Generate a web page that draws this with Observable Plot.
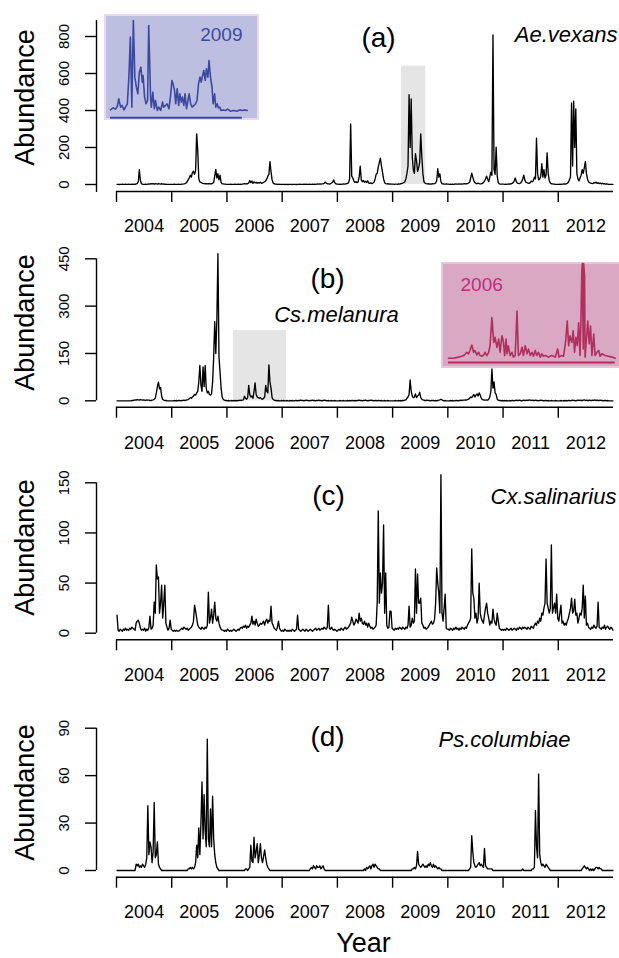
<!DOCTYPE html>
<html>
<head>
<meta charset="utf-8">
<script src="https://cdn.jsdelivr.net/npm/d3@7"></script>
<script src="https://cdn.jsdelivr.net/npm/@observablehq/plot@0.6"></script>
<style>
  html, body { margin: 0; padding: 0; background: #fff; }
  #fig { position: relative; width: 619px; height: 958px; overflow: hidden; }
  #fig svg { position: absolute; overflow: visible; }
</style>
</head>
<body>
<div id="fig"></div>
<script>
// Weekly mosquito trap counts, 2004–2012 (52 values per year, one row per year)
const years = [2004, 2005, 2006, 2007, 2008, 2009, 2010, 2011, 2012];

const aeVexans = [
  [1,1,0,1,1,2,1,1,2,1, 1,2,1,1,2,1,2,1,3,5, 15,80,22,4,2,1,1,2,1,2, 3,2,4,3,5,2,4,3,2,5, 3,2,4,2,3,1,2,1,1,1, 1,1],
  [1,1,2,1,1,1,2,1,1,2, 2,3,5,8,15,25,35,50,40,65, 72,55,75,274,184,30,14,12,8,6, 5,4,5,3,4,3,5,4,6,12, 45,82,35,58,25,50,10,4,3,2, 2,1],
  [1,1,1,2,1,1,1,2,1,1, 2,1,2,1,2,3,4,3,5,4, 8,22,10,18,6,14,9,12,7,10, 8,12,6,9,12,15,20,30,45,55, 124,70,25,8,4,2,2,1,2,1, 1,1],
  [1,1,0,1,1,0,1,1,1,0, 1,1,1,0,1,1,2,1,1,1, 2,1,2,1,1,2,1,1,2,1, 2,1,2,3,2,3,2,3,4,6, 13,8,4,3,2,4,8,12,25,10, 4,2],
  [2,1,2,1,2,3,2,3,4,6, 10,30,328,45,35,20,12,15,10,14, 40,99,25,15,22,12,18,10,20,8, 6,9,5,8,12,30,55,60,95,120, 142,100,65,30,10,5,3,4,2,3, 2,2],
  [2,1,2,2,1,3,2,4,5,8, 10,15,30,60,100,485,200,463,150,80, 60,166,130,70,90,120,274,150,60,15, 8,5,3,4,2,3,2,4,3,5, 8,20,85,40,58,15,4,3,2,2, 3,2],
  [2,1,2,1,2,1,2,3,2,2, 3,2,3,2,3,4,3,4,5,8, 12,35,61,40,20,10,6,4,8,5, 3,4,6,10,18,30,45,28,15,40, 67,50,809,80,55,202,45,10,3,2, 2,2],
  [2,1,2,1,2,3,2,4,6,10, 20,35,15,8,6,5,8,15,30,50, 25,12,10,8,6,10,18,15,20,40, 30,250,60,25,30,45,112,40,80,35, 50,171,60,20,8,4,3,2,2,1, 1,1],
  [1,2,1,2,2,3,2,4,6,12, 25,40,441,100,450,200,409,60,30,20, 35,50,80,60,90,124,60,30,15,10, 8,6,5,10,8,12,6,10,5,8, 4,6,3,5,2,3,2,1,1,1, 1,1]
];

const csMelanura = [
  [0,0,0,0,0,0,0,0,0,0, 0,0,0,0,1,1,2,3,2,4, 3,2,4,3,2,3,2,1,3,2, 2,1,1,2,3,5,8,25,45,59, 38,42,15,4,2,1,1,0,0,0, 0,0],
  [0,0,1,0,1,0,1,1,0,1, 1,2,1,2,3,4,6,10,8,12, 15,20,18,25,30,60,112,50,30,107, 45,112,40,25,30,20,18,22,60,138, 251,150,255,466,140,90,40,12,5,2, 1,1],
  [0,1,0,0,1,0,1,0,1,0, 1,1,2,1,2,3,15,8,5,10, 49,20,12,15,8,30,57,20,12,10, 8,10,6,5,8,12,49,30,25,114, 60,40,10,4,2,1,1,0,1,0, 0,1],
  [0,1,0,0,1,0,0,1,0,1, 0,0,1,1,0,1,1,2,1,1, 0,1,2,1,1,0,1,1,2,1, 1,0,1,1,2,1,1,0,1,2, 1,1,0,1,0,0,1,0,0,1, 0,0],
  [0,0,1,0,0,1,0,0,0,1, 0,1,0,1,1,0,1,0,1,1, 2,1,1,0,1,1,2,1,0,1, 1,2,1,1,0,1,1,0,1,1, 0,1,0,0,1,0,0,1,0,0, 0,0],
  [0,0,1,0,0,1,0,1,0,1, 1,2,3,8,12,20,66,30,15,10, 12,22,10,15,18,27,10,5,3,2, 1,1,2,1,1,0,1,1,1,0, 1,0,1,2,3,5,3,1,0,1, 0,0],
  [0,0,1,0,1,0,0,1,1,0, 1,1,2,1,2,2,3,2,4,5, 8,12,10,15,20,12,18,22,15,25, 18,8,4,3,2,2,3,2,5,12, 30,101,40,60,25,20,5,2,1,1, 0,1],
  [0,1,0,1,0,0,1,0,1,1, 0,1,2,1,1,2,1,0,1,2, 1,1,2,1,3,2,1,2,1,1, 2,1,1,0,1,2,1,1,0,1, 1,0,1,0,0,1,0,0,0,1, 0,0],
  [0,0,1,0,0,1,0,1,0,1, 1,0,1,2,1,1,0,1,2,1, 2,1,1,2,3,1,2,1,1,2, 1,1,2,1,3,1,2,1,1,2, 1,1,0,1,1,0,1,0,0,0, 0,0]
];

const cxSalinarius = [
  [18,3,2,4,3,2,4,3,5,3, 4,3,5,4,6,5,4,3,10,12, 13,10,5,3,4,3,5,2,4,3, 6,17,4,5,8,31,20,68,54,56, 20,30,48,15,30,48,10,6,3,5, 13,4],
  [3,2,3,2,3,2,2,3,4,5, 4,6,5,4,5,3,4,5,6,8, 12,28,22,15,8,6,5,4,6,5, 4,6,5,8,41,10,15,24,10,18, 31,15,12,17,10,6,4,3,3,2, 3,2],
  [4,3,2,3,2,3,4,3,2,3, 4,3,5,6,5,7,6,8,5,7, 6,8,10,17,9,12,8,14,10,7, 8,10,9,10,12,8,12,14,10,13, 12,27,10,8,5,4,3,6,12,5, 3,2],
  [3,2,4,3,2,3,2,3,2,4, 3,2,3,4,18,4,3,2,3,4, 3,2,4,3,2,3,4,3,2,3, 4,5,3,4,5,3,4,5,4,6, 5,4,6,28,5,4,6,4,3,4, 3,2],
  [3,4,3,5,4,3,5,6,4,5, 6,8,10,16,12,8,10,14,12,10, 20,12,15,10,9,12,8,10,6,10, 7,5,6,4,5,6,8,31,122,30, 60,40,50,108,20,60,8,5,6,22, 22,5],
  [4,3,5,4,5,4,6,5,4,6, 5,4,6,5,8,27,6,8,15,10, 12,64,20,59,30,30,35,10,8,5, 6,4,5,6,8,10,12,9,10,14, 30,65,50,40,20,158,20,12,25,39, 5,4],
  [4,3,5,4,3,5,4,6,4,5, 3,5,4,6,5,4,6,5,8,10, 12,15,84,40,35,15,20,10,15,50, 20,15,12,10,18,25,30,20,15,8, 12,10,24,14,10,8,20,12,5,4, 3,4],
  [3,4,3,5,4,3,4,5,3,4, 5,4,3,5,4,6,5,4,6,5, 6,5,4,6,5,4,7,6,5,8, 10,8,12,10,15,12,20,18,25,30, 74,30,25,20,25,88,20,25,30,20, 39,15],
  [12,20,28,10,12,8,10,8,12,15, 20,25,35,20,22,34,18,20,10,15, 20,18,25,48,15,37,8,10,6,5, 4,6,5,8,6,5,7,31,6,5, 4,6,5,8,4,6,7,5,4,6, 5,3]
];

const psColumbiae = [
  [0,0,0,0,0,0,0,0,0,0, 0,0,0,0,0,0,0,0,4,3, 4,2,3,2,4,3,2,4,8,41, 10,18,15,5,12,43,8,10,18,4, 2,1,0,0,0,0,0,0,0,0, 0,0],
  [0,0,0,0,0,0,0,0,0,0, 0,0,0,0,0,1,1,2,1,2, 1,2,5,16,8,27,10,30,56,20, 48,25,15,83,20,15,39,15,47,20, 10,5,2,1,0,0,0,0,0,0, 0,0],
  [0,0,0,0,0,0,0,0,0,0, 0,0,0,0,0,0,0,1,1,0, 1,2,16,6,5,21,8,12,17,5, 10,17,8,5,9,13,8,4,2,1, 0,0,0,0,0,0,0,0,0,0, 0,0],
  [0,0,0,0,0,0,0,0,0,0, 0,0,0,0,0,0,0,0,0,0, 0,0,0,0,0,0,1,2,1,3, 2,1,3,2,2,3,1,2,3,1, 0,0,0,0,0,0,0,0,0,0, 0,0],
  [0,0,0,0,0,0,0,0,0,0, 0,0,0,0,0,0,0,0,0,0, 0,0,0,0,0,1,0,2,1,2, 3,1,3,4,2,4,3,2,1,1, 0,0,0,0,0,0,0,0,0,0, 0,0],
  [0,0,0,0,0,0,0,0,0,0, 0,0,0,0,0,0,0,0,1,1, 2,1,3,12,4,3,2,3,4,3, 2,3,2,4,3,5,3,2,4,2, 3,2,1,2,1,1,0,0,0,0, 0,0],
  [0,0,0,0,0,0,0,0,0,0, 0,0,0,0,0,0,0,0,0,0, 1,2,22,12,5,3,2,3,4,5, 3,4,3,2,14,3,2,1,1,1, 1,1,0,0,0,0,0,0,0,0, 0,0],
  [0,0,0,0,0,0,0,0,0,0, 0,0,0,0,0,0,0,0,1,0, 0,0,0,0,0,0,0,1,1,2, 38,15,8,61,10,5,3,4,3,2, 4,3,2,1,0,0,0,0,0,0, 0,0],
  [0,0,0,0,0,0,0,0,0,0, 0,0,0,0,0,0,0,0,0,0, 0,0,1,2,3,2,1,2,1,0, 1,0,1,0,1,2,2,1,2,1, 1,0,0,0,0,0,0,0,0,0, 0,0]
];

// Close-up seasons shown in the insets (day of year, count)
const insetDays2009 = [0,7,13,18,22,27,31,36,40,45, 49,53,57,61,65,69,73,77,81,85, 87,91,95,99,102,107,109,113,117,120, 125,129,134,139,142,147,151,156,160,164, 167,171,174,178,182,185,189,192,196,199, 203,206,210,214,218,223,227,231,235,239, 242,246,249,253,256,260,263,267,271,274, 278,281,285,288,292,295,301,307,313,320, 329,338,345,352,358,365];
const insetCounts2009 = [7,18,11,25,67,22,31,7,22,40, 184,400,22,490,184,130,94,211,238,157, 193,76,40,58,463,76,22,103,13,58, 4,22,4,49,22,31,40,13,76,166, 148,112,40,121,31,94,49,76,31,94, 13,49,94,40,22,31,40,58,148,184, 157,193,220,166,229,184,274,184,130,40, 94,22,40,18,22,4,7,4,11,0, 4,0,7,4,7,4];

const insetDays2006 = [0,11,22,29,35,40,44,47,51,55, 58,62,66,69,73,77,80,84,88,91, 95,99,102,106,110,113,117,120,123,126, 128,131,135,139,142,146,150,153,157,161, 164,168,172,175,179,183,186,190,193,197, 201,204,208,212,219,226,234,239,242,247, 252,257,260,263,266,270,273,276,279,282, 285,288,290,292,293,295,296,298,299,302, 305,308,311,314,318,321,325,329,332,336, 343,350,358,365];
const insetCounts2006 = [0,0,5,9,15,27,20,35,60,27, 35,15,27,12,9,15,27,12,27,57, 185,72,95,50,87,27,102,80,12,87, 20,57,12,27,5,12,215,12,20,50, 12,57,20,42,12,27,9,35,12,27, 5,20,9,12,5,12,5,42,5,12, 9,87,170,57,102,72,125,27,95,57, 162,12,177,402,432,42,432,372,5,87, 170,65,147,12,110,12,27,35,9,20, 12,9,5,0];

// Shaded seasons highlighted in the main panels
const shadeVexans = [{from: 2009.16, to: 2009.6, top: 640}];
const shadeMelanura = [{from: 2006.12, to: 2007.08, top: 223}];

const tickYears = years;
const FONT = '"Liberation Sans", Arial, Helvetica, sans-serif';
const fig = document.getElementById("fig");

function weekly(series) {
  return series.flatMap((vals, k) => vals.map((v, w) => ({t: years[k] + (w + 0.5) / 52, n: v})));
}

function panel(cfg) {
  const frameBottom = cfg.height - cfg.marginBottom;
  const marks = [];
  if (cfg.shade) {
    marks.push(Plot.rect(cfg.shade, {x1: "from", x2: "to", y1: 0, y2: "top", fill: "#e5e5e5"}));
  }
  marks.push(
    Plot.line(weekly(cfg.series), {x: "t", y: "n", stroke: "#000", strokeWidth: 1.35}),
    // axes drawn R-style: detached lines with outward ticks
    Plot.ruleY([0], {x1: 2004, x2: 2013, dy: frameBottom - cfg.zero, strokeWidth: 1.4}),
    Plot.axisX({ticks: tickYears, anchor: "bottom", label: null, tickSize: 11, tickFormat: () => "", strokeWidth: 1.4}),
    Plot.text(years, {x: d => d + 0.5, text: d => String(d), frameAnchor: "bottom", dy: cfg.labelDy, lineAnchor: "bottom", fontSize: 18}),
    Plot.ruleX([2004], {x: d => d, y1: cfg.axisSpan[0], y2: cfg.axisSpan[1], dx: -20, strokeWidth: 1.4}),
    Plot.axisY({ticks: cfg.yTicks, anchor: "left", label: null, tickSize: 11, tickFormat: () => "", dx: -20, strokeWidth: 1.4}),
    Plot.text(cfg.yTicks, {y: d => d, text: d => String(d), frameAnchor: "left", rotate: -90, dx: -52.3, textAnchor: "middle", lineAnchor: "middle", fontSize: 15}),
    Plot.text(["Abundance"], {text: d => d, frameAnchor: "left", rotate: -90, dx: -91, dy: cfg.abDy, textAnchor: "middle", lineAnchor: "middle", fontSize: 27}),
    Plot.text([cfg.tag], {text: d => d, frameAnchor: "top-left", dx: cfg.tagX - 116, dy: cfg.tagBase, textAnchor: "middle", lineAnchor: "bottom", fontSize: 28}),
    Plot.text([cfg.species], {text: d => d, frameAnchor: "top-left", dx: cfg.speciesX - 116, dy: cfg.speciesBase, textAnchor: cfg.speciesAnchor, lineAnchor: "bottom", fontSize: 22, fontStyle: "italic"})
  );
  if (cfg.xTitle) {
    marks.push(Plot.text([cfg.xTitle], {text: d => d, frameAnchor: "bottom", dx: -1.5, dy: cfg.xTitleDy, lineAnchor: "bottom", fontSize: 27}));
  }
  const svg = Plot.plot({
    width: 619,
    height: cfg.height,
    marginLeft: 116,
    marginRight: 6,
    marginTop: 0,
    marginBottom: cfg.marginBottom,
    style: {fontFamily: FONT, background: "transparent", color: "#000", overflow: "visible"},
    x: {type: "linear", domain: [2004, 2013], label: null},
    y: {type: "linear", domain: [0, cfg.yTicks[cfg.yTicks.length - 1]], range: [cfg.zero, cfg.top], label: null},
    marks
  });
  svg.style.left = "0px";
  svg.style.top = cfg.top0 + "px";
  fig.appendChild(svg);
}

function inset(cfg) {
  const rows = cfg.days.map((d, i) => ({d, n: cfg.counts[i]}));
  const svg = Plot.plot({
    width: cfg.width,
    height: cfg.height,
    marginLeft: cfg.marginLeft,
    marginRight: cfg.marginRight,
    marginTop: 0,
    marginBottom: 0,
    style: {fontFamily: FONT, background: cfg.fill, overflow: "visible"},
    x: {type: "linear", domain: [0, 365], axis: null},
    y: {type: "linear", domain: [0, cfg.yMax], range: cfg.yRange, axis: null},
    marks: [
      Plot.ruleY([0], {x1: 0, x2: cfg.ruleEnd, dy: cfg.ruleDy, stroke: cfg.stroke, strokeWidth: 2}),
      Plot.line(rows, {x: "d", y: "n", stroke: cfg.stroke, strokeWidth: 1.6}),
      Plot.text([cfg.label], {text: d => d, frameAnchor: "top-left", dx: cfg.labelDx, dy: cfg.labelDy, textAnchor: cfg.labelAnchor, lineAnchor: "bottom", fontSize: 19, fill: cfg.labelColor})
    ]
  });
  svg.style.left = cfg.left + "px";
  svg.style.top = cfg.top + "px";
  svg.style.boxShadow = "0 0 0 2px " + cfg.border;
  fig.appendChild(svg);
}

panel({series: aeVexans, top0: 0, height: 240, marginBottom: 49, zero: 184, top: 36,
  yTicks: [0, 200, 400, 600, 800], axisSpan: [-43, 886], abDy: 1.5, labelDy: 40,
  tag: "(a)", tagX: 378, tagBase: 46, species: "Ae.vexans", speciesX: 617, speciesBase: 41.7, speciesAnchor: "end",
  shade: shadeVexans});

panel({series: csMelanura, top0: 240, height: 220, marginBottom: 53.3, zero: 160.3, top: 18.3,
  yTicks: [0, 150, 300, 450], axisSpan: [0, 450], abDy: -1.3, labelDy: 41.3,
  tag: "(b)", tagX: 327, tagBase: 47, species: "Cs.melanura", speciesX: 336, speciesBase: 81.7, speciesAnchor: "middle",
  shade: shadeMelanura});

panel({series: cxSalinarius, top0: 460, height: 230, marginBottom: 50.7, zero: 172.7, top: 22.3,
  yTicks: [0, 50, 100, 150], axisSpan: [0, 150], abDy: -2.7, labelDy: 40.7,
  tag: "(c)", tagX: 328, tagBase: 44, species: "Cx.salinarius", speciesX: 616, speciesBase: 43.3, speciesAnchor: "end"});

panel({series: psColumbiae, top0: 690, height: 268, marginBottom: 81.3, zero: 180, top: 37.7,
  yTicks: [0, 30, 60, 90], axisSpan: [0, 90], abDy: 8.7, labelDy: 40.3,
  tag: "(d)", tagX: 327, tagBase: 55.5, species: "Ps.columbiae", speciesX: 504, speciesBase: 56.7, speciesAnchor: "middle",
  xTitle: "Year", xTitleDy: 75});

inset({days: insetDays2009, counts: insetCounts2009, left: 106, top: 16, width: 151, height: 102,
  marginLeft: 4, marginRight: 10.3, yMax: 490, yRange: [94.7, 4], ruleEnd: 352, ruleDy: 6.6,
  fill: "#bdbfe1", border: "#ecd8ea", stroke: "#3b4aa0",
  label: "2009", labelDx: 132, labelDy: 24, labelAnchor: "end", labelColor: "#3b4aa0"});

inset({days: insetDays2006, counts: insetCounts2006, left: 443, top: 264, width: 176, height: 102,
  marginLeft: 5, marginRight: 4.3, yMax: 432, yRange: [93.7, -1], ruleEnd: 365, ruleDy: 4.3,
  fill: "#d9a8c2", border: "#e8c6d8", stroke: "#b02f5c",
  label: "2006", labelDx: 12, labelDy: 26, labelAnchor: "start", labelColor: "#c02c7e"});
</script>
</body>
</html>
